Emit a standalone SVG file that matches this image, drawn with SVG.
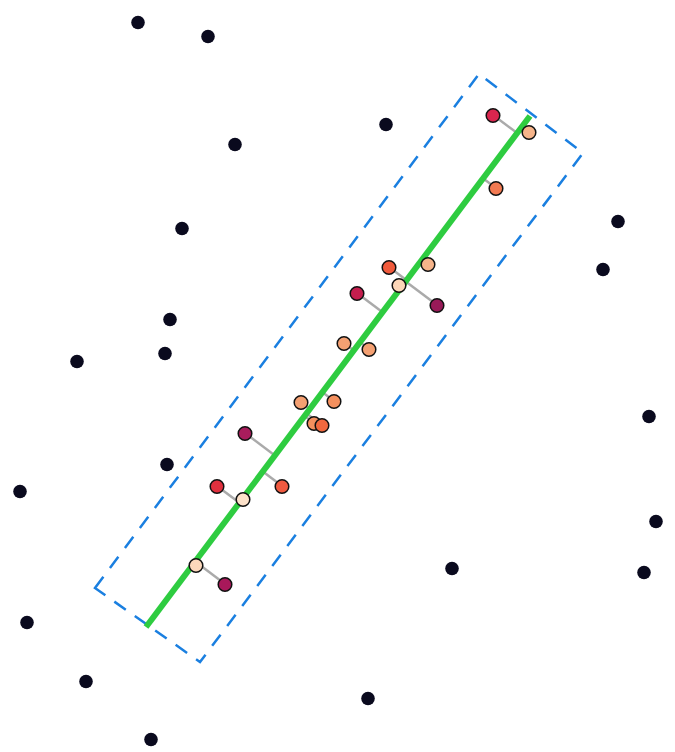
<svg xmlns="http://www.w3.org/2000/svg" width="675" height="752" viewBox="0 0 675 752">
<style>
.bg{fill:#ffffff}
.box{fill:none;stroke:#1a7fe0;stroke-width:2.5;stroke-dasharray:14 11}
.fit{stroke:#2ecc40;stroke-width:6;stroke-linecap:butt}
.proj{stroke:#aaaaaa;stroke-width:2.5}
.out{fill:#0a0a1e}
.pt{stroke:#111111;stroke-width:1.5}
</style>
<rect class="bg" width="675" height="752"/>
<g id="outliers">
<circle class="out" cx="138" cy="22.5" r="6.8"/>
<circle class="out" cx="208" cy="36.5" r="6.8"/>
<circle class="out" cx="386" cy="124.5" r="6.8"/>
<circle class="out" cx="235" cy="144.5" r="6.8"/>
<circle class="out" cx="618" cy="221.5" r="6.8"/>
<circle class="out" cx="182" cy="228.5" r="6.8"/>
<circle class="out" cx="603" cy="269.5" r="6.8"/>
<circle class="out" cx="170" cy="319.5" r="6.8"/>
<circle class="out" cx="165" cy="353.5" r="6.8"/>
<circle class="out" cx="77" cy="361.5" r="6.8"/>
<circle class="out" cx="649" cy="416.5" r="6.8"/>
<circle class="out" cx="167" cy="464.5" r="6.8"/>
<circle class="out" cx="20" cy="491.5" r="6.8"/>
<circle class="out" cx="656" cy="521.5" r="6.8"/>
<circle class="out" cx="452" cy="568.5" r="6.8"/>
<circle class="out" cx="644" cy="572.5" r="6.8"/>
<circle class="out" cx="27" cy="622.5" r="6.8"/>
<circle class="out" cx="86" cy="681.5" r="6.8"/>
<circle class="out" cx="368" cy="698.5" r="6.8"/>
<circle class="out" cx="151" cy="739.5" r="6.8"/>
</g>
<g id="band">
<polygon class="box" points="95,588 479,74 583,153 200,662"/>
</g>
<g id="connectors">
<line class="proj" x1="493" y1="115" x2="517.2" y2="133.1"/>
<line class="proj" x1="529" y1="132" x2="522" y2="126.7"/>
<line class="proj" x1="496" y1="188" x2="483.2" y2="178.4"/>
<line class="proj" x1="389" y1="267" x2="406.6" y2="280.2"/>
<line class="proj" x1="428" y1="264" x2="422.1" y2="259.6"/>
<line class="proj" x1="437" y1="305" x2="405.7" y2="281.5"/>
<line class="proj" x1="357" y1="293" x2="382.6" y2="312.2"/>
<line class="proj" x1="344" y1="343" x2="353.9" y2="350.4"/>
<line class="proj" x1="369" y1="349" x2="360" y2="342.3"/>
<line class="proj" x1="301" y1="402" x2="310" y2="408.8"/>
<line class="proj" x1="334" y1="401" x2="322.5" y2="392.2"/>
<line class="proj" x1="314" y1="423" x2="304.6" y2="416"/>
<line class="proj" x1="322" y1="425" x2="306.5" y2="413.4"/>
<line class="proj" x1="245" y1="433" x2="274.9" y2="455.5"/>
<line class="proj" x1="282" y1="486" x2="262.8" y2="471.6"/>
<line class="proj" x1="217" y1="486" x2="239.4" y2="502.8"/>
<line class="proj" x1="225" y1="584" x2="195.2" y2="561.5"/>
</g>
<g id="fit-line">
<line class="fit" x1="146" y1="627" x2="530" y2="116"/>
</g>
<g id="inliers">
<circle class="pt" cx="493" cy="115.5" r="6.8" fill="#d9264e"/>
<circle class="pt" cx="529" cy="132.5" r="6.8" fill="#f6b48a"/>
<circle class="pt" cx="496" cy="188.5" r="6.8" fill="#f27a52"/>
<circle class="pt" cx="389" cy="267.5" r="6.8" fill="#f05a3c"/>
<circle class="pt" cx="428" cy="264.5" r="6.8" fill="#f6b48a"/>
<circle class="pt" cx="399" cy="285.5" r="6.8" fill="#fcd6b8"/>
<circle class="pt" cx="437" cy="305.5" r="6.8" fill="#981a58"/>
<circle class="pt" cx="357" cy="293.5" r="6.8" fill="#c41e4e"/>
<circle class="pt" cx="344" cy="343.5" r="6.8" fill="#f4a072"/>
<circle class="pt" cx="369" cy="349.5" r="6.8" fill="#f4a072"/>
<circle class="pt" cx="301" cy="402.5" r="6.8" fill="#f4a072"/>
<circle class="pt" cx="334" cy="401.5" r="6.8" fill="#f4905e"/>
<circle class="pt" cx="314" cy="423.5" r="6.8" fill="#f4905e"/>
<circle class="pt" cx="322" cy="425.5" r="6.8" fill="#f0683e"/>
<circle class="pt" cx="245" cy="433.5" r="6.8" fill="#a81c5c"/>
<circle class="pt" cx="282" cy="486.5" r="6.8" fill="#f05a40"/>
<circle class="pt" cx="217" cy="486.5" r="6.8" fill="#e0303e"/>
<circle class="pt" cx="243" cy="499.5" r="6.8" fill="#fde2ca"/>
<circle class="pt" cx="196" cy="565.5" r="6.8" fill="#fcd8bc"/>
<circle class="pt" cx="225" cy="584.5" r="6.8" fill="#a8185a"/>
</g>
</svg>
